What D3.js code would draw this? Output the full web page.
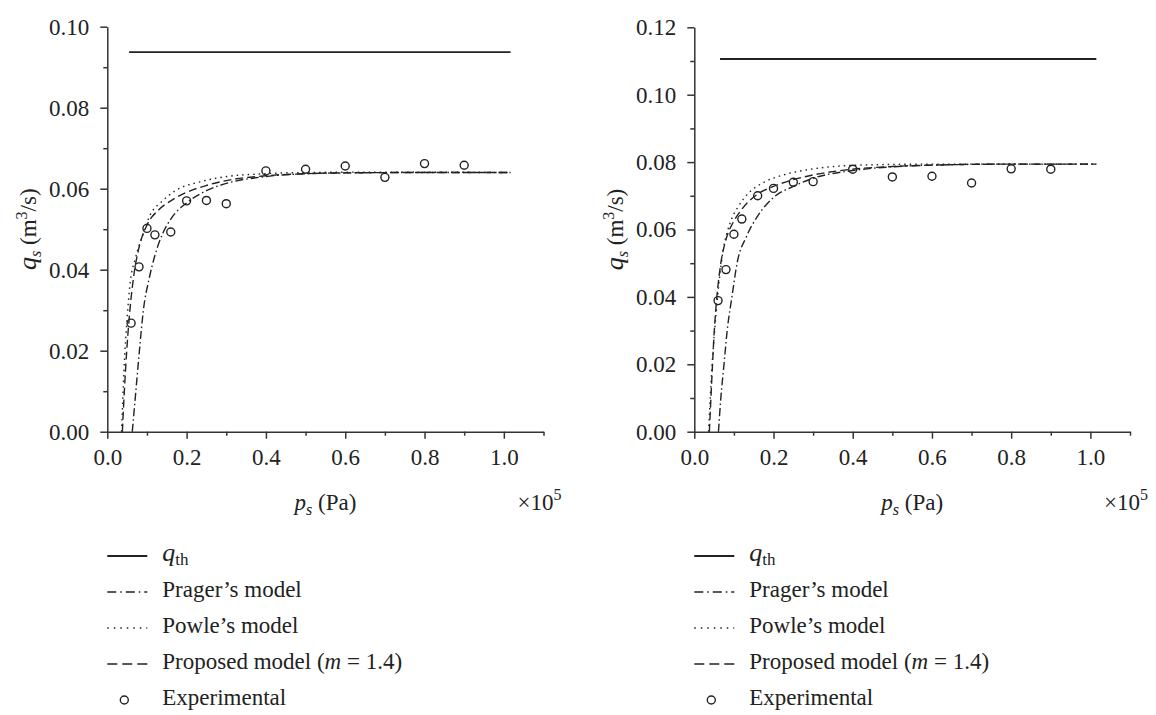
<!DOCTYPE html>
<html><head><meta charset="utf-8">
<script src="https://cdn.jsdelivr.net/npm/d3@7"></script>
<style>
body{margin:0;background:#fff}
text{font-family:"Liberation Serif","Times New Roman",serif;fill:#222}
</style>
</head><body><svg id="c" width="1156" height="715"></svg>
<script>
// ---------- data ----------
const xMajorTicks = [0, 0.2, 0.4, 0.6, 0.8, 1.0];
const xMinorTicks = [0.1, 0.3, 0.5, 0.7, 0.9, 1.1];
const yMajorLeft = [0, 0.02, 0.04, 0.06, 0.08, 0.10];
const yMinorLeft = [0.01, 0.03, 0.05, 0.07, 0.09];
const yMajorRight = [0, 0.02, 0.04, 0.06, 0.08, 0.10, 0.12];
const yMinorRight = [0.01, 0.03, 0.05, 0.07, 0.09, 0.11];

const legendNames = ["q_th", "Prager’s model", "Powle’s model", "Proposed model (m = 1.4)", "Experimental"];

// experimental points
const expP = [0.06, 0.08, 0.10, 0.12, 0.16, 0.20, 0.25, 0.30, 0.40, 0.50, 0.60, 0.70, 0.80, 0.90];
const expQLeft = [0.0268, 0.0407, 0.0502, 0.0486, 0.0493, 0.0570, 0.0571, 0.0563, 0.0644, 0.0648, 0.0656, 0.0628, 0.0662, 0.0658];
const expQRight = [0.0389, 0.0481, 0.0586, 0.0631, 0.0700, 0.0722, 0.0740, 0.0742, 0.0779, 0.0756, 0.0758, 0.0738, 0.0780, 0.0779];

// theoretical q_th
const qthPLeft = [0.055, 1.017];
const qthQLeft = [0.0937, 0.0937];
const qthPRight = [0.065, 1.015];
const qthQRight = [0.1106, 0.1106];

// left panel model curves
const pragerPLeft = [0.063, 0.072, 0.081, 0.091, 0.106, 0.12, 0.14, 0.16, 0.20, 0.25, 0.30, 0.40, 0.50, 0.60, 0.80, 1.017];
const pragerQLeft = [0, 0.01, 0.02, 0.03, 0.038, 0.0435, 0.049, 0.0525, 0.0565, 0.0595, 0.0613, 0.0630, 0.0637, 0.0639, 0.0640, 0.0640];
const powlePLeft = [0.036, 0.042, 0.050, 0.058, 0.070, 0.078, 0.087, 0.108, 0.137, 0.175, 0.234, 0.301, 0.377, 0.50, 0.70, 1.017];
const powleQLeft = [0, 0.015, 0.028, 0.037, 0.0425, 0.0453, 0.0478, 0.0535, 0.0568, 0.0597, 0.0617, 0.0630, 0.0636, 0.0640, 0.0641, 0.0640];
const proposedPLeft = [0.038, 0.043, 0.049, 0.057, 0.066, 0.08, 0.10, 0.13, 0.16, 0.20, 0.25, 0.30, 0.40, 0.50, 0.60, 0.80, 1.017];
const proposedQLeft = [0, 0.01, 0.02, 0.03, 0.038, 0.0455, 0.0510, 0.0548, 0.0570, 0.0591, 0.0608, 0.0620, 0.0632, 0.0637, 0.0639, 0.0640, 0.0640];

// right panel model curves
const pragerPRight = [0.061, 0.067, 0.075, 0.083, 0.095, 0.108, 0.132, 0.16, 0.20, 0.25, 0.30, 0.40, 0.50, 0.60, 0.80, 1.015];
const pragerQRight = [0, 0.01, 0.02, 0.03, 0.04, 0.05, 0.058, 0.064, 0.0695, 0.0728, 0.0752, 0.0775, 0.0786, 0.0791, 0.0794, 0.0794];
const powlePRight = [0.036, 0.045, 0.055, 0.063, 0.073, 0.09, 0.111, 0.136, 0.174, 0.225, 0.284, 0.343, 0.45, 0.60, 1.015];
const powleQRight = [0, 0.02, 0.035, 0.045, 0.0539, 0.0618, 0.0668, 0.0707, 0.0739, 0.0762, 0.0777, 0.0786, 0.0792, 0.0794, 0.0794];
const proposedPRight = [0.038, 0.042, 0.046, 0.0505, 0.057, 0.067, 0.08, 0.10, 0.12, 0.16, 0.20, 0.25, 0.30, 0.40, 0.50, 0.60, 0.80, 1.015];
const proposedQRight = [0, 0.01, 0.02, 0.03, 0.04, 0.05, 0.057, 0.0625, 0.066, 0.0705, 0.0728, 0.0748, 0.0762, 0.0779, 0.0787, 0.0791, 0.0794, 0.0794];

// ---------- drawing ----------
const svg = d3.select("#c");
const INK = "#222";
const zip = (a, b) => a.map((v, i) => [v, b[i]]);

const panels = [
  {x0: 107.3, x1: 543.5, yTop: 26.7, yMax: 0.10, yMajor: yMajorLeft, yMinor: yMinorLeft,
   exp: expQLeft, qthP: qthPLeft, qthQ: qthQLeft,
   prager: zip(pragerPLeft, pragerQLeft), powle: zip(powlePLeft, powleQLeft), proposed: zip(proposedPLeft, proposedQLeft)},
  {x0: 694.3, x1: 1130, yTop: 27.3, yMax: 0.12, yMajor: yMajorRight, yMinor: yMinorRight,
   exp: expQRight, qthP: qthPRight, qthQ: qthQRight,
   prager: zip(pragerPRight, pragerQRight), powle: zip(powlePRight, powleQRight), proposed: zip(proposedPRight, proposedQRight)}
];
const yBottom = 431.7;
const FS = 23;

panels.forEach(pn => {
  const x = d3.scaleLinear().domain([0, 1.1]).range([pn.x0, pn.x1]);
  const y = d3.scaleLinear().domain([0, pn.yMax]).range([yBottom, pn.yTop]);
  const g = svg.append("g");

  // minor ticks
  g.append("g").attr("transform", `translate(0,${yBottom})`)
    .call(d3.axisBottom(x).tickValues(xMinorTicks).tickSize(4).tickFormat(""))
    .call(s => s.select(".domain").remove());
  g.append("g").attr("transform", `translate(${pn.x0},0)`)
    .call(d3.axisLeft(y).tickValues(pn.yMinor).tickSize(4).tickFormat(""))
    .call(s => s.select(".domain").remove());
  // major axes
  const xa = g.append("g").attr("transform", `translate(0,${yBottom})`)
    .call(d3.axisBottom(x).tickValues(xMajorTicks).tickSize(7).tickSizeOuter(0).tickPadding(10).tickFormat(d3.format(".1f")));
  const ya = g.append("g").attr("transform", `translate(${pn.x0},0)`)
    .call(d3.axisLeft(y).tickValues(pn.yMajor).tickSize(7).tickSizeOuter(0).tickPadding(11).tickFormat(d3.format(".2f")));
  g.selectAll(".tick line, .domain").attr("stroke", "#333").attr("stroke-width", 1.5);
  g.selectAll(".tick text").attr("font-size", FS).attr("font-family", "Liberation Serif").attr("fill", INK);

  // q_th line
  g.append("path").datum(zip(pn.qthP, pn.qthQ))
    .attr("d", d3.line().x(d => x(d[0])).y(d => y(d[1])))
    .attr("fill", "none").attr("stroke", INK).attr("stroke-width", 1.8);

  const line = d3.line().x(d => x(d[0])).y(d => y(d[1])).curve(d3.curveMonotoneX);
  g.append("path").datum(pn.prager).attr("d", line)
    .attr("fill", "none").attr("stroke", INK).attr("stroke-width", 1.4).attr("stroke-dasharray", "8,3,1.5,3");
  g.append("path").datum(pn.powle).attr("d", line)
    .attr("fill", "none").attr("stroke", INK).attr("stroke-width", 1.4).attr("stroke-dasharray", "1.5,4");
  g.append("path").datum(pn.proposed).attr("d", line)
    .attr("fill", "none").attr("stroke", INK).attr("stroke-width", 1.4).attr("stroke-dasharray", "8,4");

  // experimental
  g.selectAll("circle.exp").data(zip(expP, pn.exp)).join("circle").attr("class", "exp")
    .attr("cx", d => x(d[0])).attr("cy", d => y(d[1])).attr("r", 4)
    .attr("fill", "none").attr("stroke", INK).attr("stroke-width", 1.4);

  // x-axis label
  const xl = g.append("text").attr("x", (pn.x0 + pn.x1) / 2).attr("y", 510)
    .attr("text-anchor", "middle").attr("font-size", FS);
  xl.append("tspan").attr("font-style", "italic").text("p");
  xl.append("tspan").attr("font-style", "italic").attr("font-size", 16).attr("dy", 5).text("s");
  xl.append("tspan").attr("dy", -5).text(" (Pa)");
  const ex = g.append("text").attr("x", pn.x1 - 26).attr("y", 510).attr("font-size", FS);
  ex.append("tspan").text("×10");
  ex.append("tspan").attr("font-size", 16).attr("dy", -10).text("5");

  // y-axis label
  const yl = g.append("text")
    .attr("transform", `translate(${pn.x0 - 71},${(yBottom + pn.yTop) / 2}) rotate(-90)`)
    .attr("text-anchor", "middle").attr("font-size", FS);
  yl.append("tspan").attr("font-style", "italic").attr("font-size", 26).text("q");
  yl.append("tspan").attr("font-style", "italic").attr("font-size", 16).attr("dy", 5).text("s");
  yl.append("tspan").attr("dy", -5).text(" (m");
  yl.append("tspan").attr("font-size", 16).attr("dy", -9).text("3");
  yl.append("tspan").attr("dy", 9).text("/s)");

  // legend
  const lx = pn.x0;
  const rowY = [561, 597, 633, 669, 705];
  const styles = [
    {dash: null, w: 1.8},
    {dash: "9,4,1.5,4", w: 1.4},
    {dash: "1.5,5", w: 1.4},
    {dash: "10,5", w: 1.4}
  ];
  legendNames.forEach((name, i) => {
    const ly = rowY[i] - 5;
    if (i < 4) {
      g.append("line").attr("x1", lx).attr("x2", lx + 40).attr("y1", ly).attr("y2", ly)
        .attr("stroke", INK).attr("stroke-width", styles[i].w)
        .attr("stroke-dasharray", styles[i].dash);
    } else {
      g.append("circle").attr("cx", lx + 17).attr("cy", ly).attr("r", 4)
        .attr("fill", "none").attr("stroke", INK).attr("stroke-width", 1.4);
    }
    const t = g.append("text").attr("x", lx + 55).attr("y", rowY[i]).attr("font-size", FS);
    if (name === "q_th") {
      t.append("tspan").attr("font-style", "italic").attr("font-size", 26).text("q");
      t.append("tspan").attr("font-size", 17).attr("dy", 4).text("th");
    } else if (name.includes("(m = 1.4)")) {
      t.append("tspan").text("Proposed model (");
      t.append("tspan").attr("font-style", "italic").text("m");
      t.append("tspan").text(" = 1.4)");
    } else {
      t.text(name);
    }
  });
});
</script>
</body></html>
